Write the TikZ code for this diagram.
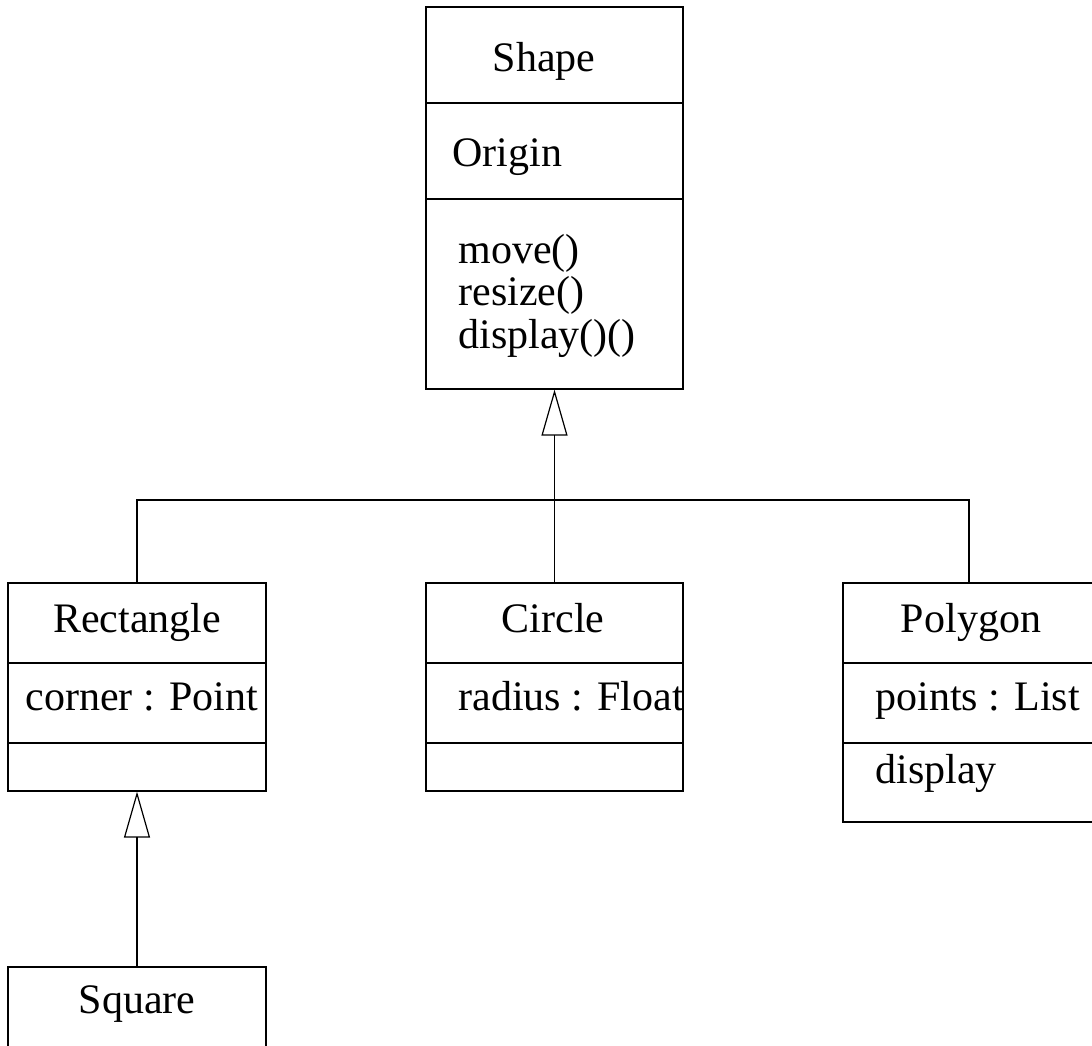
\documentclass[tikz,border=0pt]{standalone}
\usepackage{fontspec}
\setmainfont{Liberation Serif}
\usetikzlibrary{arrows.meta}

\begin{document}
\begin{tikzpicture}[x=1pt,y=-1pt,line width=1.2pt,
  classbox/.style={draw,fill=white,inner sep=0pt},
  txt/.style={inner sep=0pt,font=\fontsize{42}{44}\selectfont},
  gen/.style={-{Triangle[open,length=46pt,width=26pt]}}]
\useasboundingbox (0,0) rectangle (1092,1046);
% class boxes
\node[classbox,minimum width=257pt,minimum height=382pt] (shape) at (554.5,198) {};
\node[classbox,minimum width=258pt,minimum height=208pt] (rect) at (137,687) {};
\node[classbox,minimum width=257pt,minimum height=208pt] (circ) at (554.5,687) {};
\node[classbox,minimum width=252pt,minimum height=239pt] (poly) at (969,702.5) {};
\node[classbox,minimum width=258pt,minimum height=80pt] (square) at (137,1007) {};
% compartments
\draw (426,103) -- (683,103);
\draw (426,199) -- (683,199);
\draw (8,663) -- (266,663);
\draw (8,743) -- (266,743);
\draw (426,663) -- (683,663);
\draw (426,743) -- (683,743);
\draw (843,663) -- (1095,663);
\draw (843,743) -- (1095,743);
% texts
\node[txt,anchor=base] (shapename) at (544,72) {Shape};
\node[txt,anchor=base west] (origin) at (452,167) {Origin};
\node[txt,anchor=base west] (move) at (458,263) {move()};
\node[txt,anchor=base west] (resize) at (458,305.5) {resize()};
\node[txt,anchor=base west] (display) at (458,348) {display()()};
\node[txt,anchor=base] (rectname) at (137,632) {Rectangle};
\node[txt,anchor=base west] (corner) at (25,710) {corner : Point};
\node[txt,anchor=base] (circname) at (553,632) {Circle};
\node[txt,anchor=base west] (radius) at (458,710) {radius : Float};
\node[txt,anchor=base] (polyname) at (971,632) {Polygon};
\node[txt,anchor=base west] (points) at (875,710) {points : List};
\node[txt,anchor=base west] (polydisp) at (875,783) {display};
\node[txt,anchor=base] (squarename) at (137,1013) {Square};
% generalisation
\coordinate (bus) at (554.5,500);
\draw (rect.north) |- (bus) -| (poly.north);
\draw[gen] (circ.north) -- (shape.south);
\draw[gen] (square.north) -- (rect.south);
\end{tikzpicture}
\end{document}
